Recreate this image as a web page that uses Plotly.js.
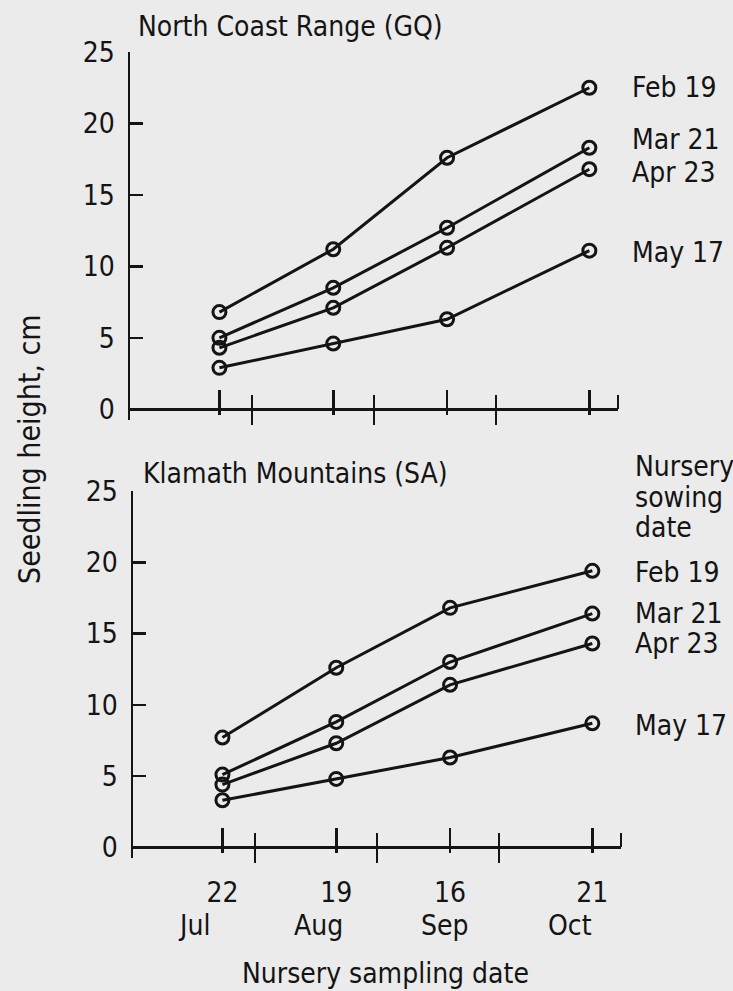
<!DOCTYPE html>
<html><head><meta charset="utf-8">
<script src="https://cdn.plot.ly/plotly-3.0.1.min.js"></script>
<style>html,body{margin:0;padding:0;background:#ebebeb}</style>
</head><body><div id="chart" style="width:733px;height:991px"></div>
<script>
// ---- data (days counted from Jul 1) ----
const sampleDays = [21, 49, 77, 112];
const dayLabels = ['22', '19', '16', '21'];
const monthLabels = ['Jul', 'Aug', 'Sep', 'Oct'];
const monthBoundaryDays = [29, 59, 89, 119];
const sowingDates = ['Feb 19', 'Mar 21', 'Apr 23', 'May 17'];
const legendTitle = ['Nursery', 'sowing', 'date'];
const yTicks = [0, 5, 10, 15, 20, 25];

const coastFeb = [6.8, 11.2, 17.6, 22.5];
const coastMar = [5.0, 8.5, 12.7, 18.3];
const coastApr = [4.3, 7.1, 11.3, 16.8];
const coastMay = [2.9, 4.6, 6.3, 11.1];

const klamFeb = [7.7, 12.6, 16.8, 19.4];
const klamMar = [5.1, 8.8, 13.0, 16.4];
const klamApr = [4.4, 7.3, 11.4, 14.3];
const klamMay = [3.3, 4.8, 6.3, 8.7];

// ---- layout helpers ----
const W = 733, H = 991;
const px = x => x / W;
const py = y => 1 - y / H;
const FONT = '"DejaVu Sans Condensed", "DejaVu Sans", sans-serif';
const FS = 28;
const INK = '#141414';
const yRange = [-0.75, 25];
const xRange = [-1, 119.05];
const topDom = [py(420), py(52)];
const botDom = [py(858), py(491)];
const topX = [px(130), px(618)];
const botX = [px(133), px(621)];
function zeroPos(dom) { return dom[0] + (0 - yRange[0]) / (yRange[1] - yRange[0]) * (dom[1] - dom[0]); }

function series(y, xa, ya) {
  return {
    x: sampleDays, y: y, xaxis: xa, yaxis: ya, mode: 'lines+markers', cliponaxis: false,
    line: {color: INK, width: 3},
    marker: {symbol: 'circle-open', size: 13, color: INK, line: {width: 3, color: INK}},
    hoverinfo: 'skip', showlegend: false
  };
}
const traces = [
  series(coastFeb, 'x', 'y'), series(coastMar, 'x', 'y'), series(coastApr, 'x', 'y'), series(coastMay, 'x', 'y'),
  series(klamFeb, 'x2', 'y2'), series(klamMar, 'x2', 'y2'), series(klamApr, 'x2', 'y2'), series(klamMay, 'x2', 'y2'),
  {x: [], y: [], xaxis: 'x3', yaxis: 'y', mode: 'markers', showlegend: false},
  {x: [], y: [], xaxis: 'x4', yaxis: 'y2', mode: 'markers', showlegend: false}
];

function mainX(dom, ydom, labels) {
  return {
    domain: dom, range: xRange, anchor: 'free', position: zeroPos(ydom),
    showline: true, linecolor: INK, linewidth: 2.5, showgrid: false, zeroline: false,
    ticks: 'inside', ticklen: 18, tickwidth: 2.5, tickcolor: INK,
    tickmode: 'array', tickvals: sampleDays, ticktext: dayLabels,
    showticklabels: labels, ticklabelstandoff: 20,
    tickfont: {family: FONT, size: FS, color: INK},
    minor: {tickmode: 'array', tickvals: monthBoundaryDays, ticks: 'outside', ticklen: 14, tickwidth: 2.5, tickcolor: INK},
    fixedrange: true, automargin: false
  };
}
function overX(base, dom, ydom) {
  return {
    overlaying: base, domain: dom, range: xRange, anchor: 'free', position: zeroPos(ydom),
    showline: false, showgrid: false, zeroline: false,
    ticks: 'outside', ticklen: 5, tickwidth: 2.5, tickcolor: INK,
    tickmode: 'array', tickvals: sampleDays, showticklabels: false,
    minor: {tickmode: 'array', tickvals: monthBoundaryDays, ticks: 'inside', ticklen: 14, tickwidth: 2.5, tickcolor: INK},
    fixedrange: true, automargin: false
  };
}
function mainY(dom, anchor) {
  return {
    domain: dom, range: yRange, anchor: anchor,
    showline: true, linecolor: INK, linewidth: 2.5, showgrid: false, zeroline: false,
    ticks: 'inside', ticklen: 13, tickwidth: 2.5, tickcolor: INK,
    tickmode: 'array', tickvals: yTicks, ticklabelstandoff: 7,
    tickfont: {family: FONT, size: FS, color: INK},
    fixedrange: true, automargin: false
  };
}

function txt(text, x, y, xanchor, extra) {
  return Object.assign({text: text, x: x, y: y, xref: 'paper', yref: 'paper', xanchor: xanchor, yanchor: 'middle',
    showarrow: false, align: 'left', font: {family: FONT, size: FS, color: INK}}, extra || {});
}
const topLabelY = [87, 139, 172, 252];
const botLabelY = [572, 613, 643, 725];
const legendTitleY = [466, 497, 527];
const monthShift = [-28, -18, -5, -22];

const annotations = [
  txt('North Coast Range (GQ)', px(136), py(27), 'left'),
  txt('Klamath Mountains (SA)', px(141), py(473), 'left'),
  txt('Seedling height, cm', px(30), py(449), 'center', {textangle: -90, font: {family: FONT, size: 30, color: INK}}),
  txt('Nursery sampling date', px(385), py(973), 'center')
];
legendTitle.forEach((t, i) => annotations.push(txt(t, px(633), py(legendTitleY[i]), 'left')));
sowingDates.forEach((d, i) => {
  annotations.push(txt(d, px(630), py(topLabelY[i]), 'left'));
  annotations.push(txt(d, px(633), py(botLabelY[i]), 'left'));
});
monthLabels.forEach((m, i) => {
  annotations.push({text: m, x: sampleDays[i], xref: 'x2', y: py(925), yref: 'paper', xanchor: 'center', yanchor: 'middle',
    xshift: monthShift[i], showarrow: false, font: {family: FONT, size: FS, color: INK}});
});

const layout = {
  width: W, height: H, margin: {l: 0, r: 0, t: 0, b: 0},
  paper_bgcolor: '#ebebeb', plot_bgcolor: 'rgba(0,0,0,0)', showlegend: false,
  xaxis: mainX(topX, topDom, false),
  yaxis: mainY(topDom, 'x'),
  xaxis2: mainX(botX, botDom, true),
  yaxis2: mainY(botDom, 'x2'),
  xaxis3: overX('x', topX, topDom),
  xaxis4: overX('x2', botX, botDom),
  annotations: annotations
};
Plotly.newPlot('chart', traces, layout, {staticPlot: true, displayModeBar: false});
</script></body></html>
